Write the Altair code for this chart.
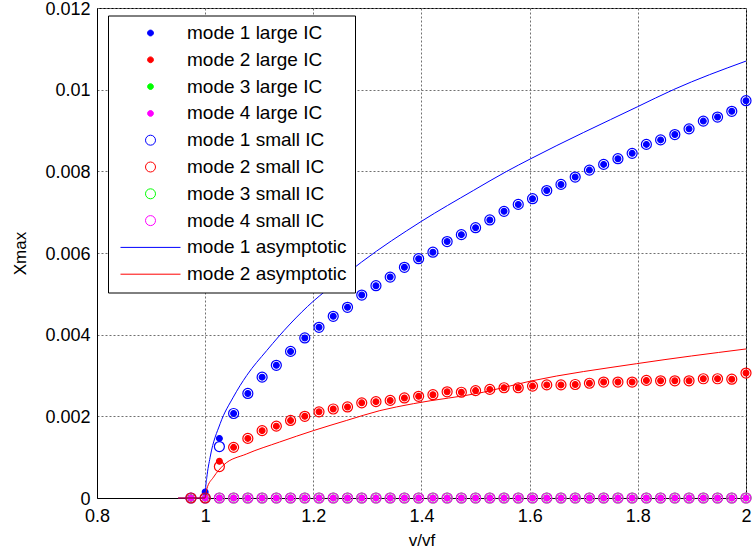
import altair as alt
import pandas as pd

# v/vf sample points (same grid for every mode)
v_ratio = [0.9737, 1.0, 1.0263, 1.0526, 1.0789, 1.1053, 1.1316, 1.1579, 1.1842, 1.2105,
           1.2368, 1.2632, 1.2895, 1.3158, 1.3421, 1.3684, 1.3947, 1.4211, 1.4474, 1.4737,
           1.5, 1.5263, 1.5526, 1.5789, 1.6053, 1.6316, 1.6579, 1.6842, 1.7105, 1.7368,
           1.7632, 1.7895, 1.8158, 1.8421, 1.8684, 1.8947, 1.9211, 1.9474, 1.9737, 2.0]

mode1_large = [0.0, 0.00015, 0.00146, 0.00207, 0.00256, 0.00296, 0.00325, 0.00359, 0.00392, 0.00418,
               0.00445, 0.00467, 0.00497, 0.00520, 0.00541, 0.00565, 0.00586, 0.00602, 0.00628, 0.00645,
               0.00662, 0.00681, 0.00702, 0.00719, 0.00733, 0.00753, 0.00768, 0.00786, 0.00803, 0.00817,
               0.00831, 0.00844, 0.00866, 0.00877, 0.00890, 0.00904, 0.00923, 0.00933, 0.00947, 0.00973]
mode1_small = [0.0, 0.0, 0.00126, 0.00207, 0.00256, 0.00296, 0.00325, 0.00359, 0.00392, 0.00418,
               0.00445, 0.00467, 0.00497, 0.00520, 0.00541, 0.00565, 0.00586, 0.00602, 0.00628, 0.00645,
               0.00662, 0.00681, 0.00702, 0.00719, 0.00733, 0.00753, 0.00768, 0.00786, 0.00803, 0.00817,
               0.00831, 0.00844, 0.00866, 0.00877, 0.00890, 0.00904, 0.00923, 0.00933, 0.00947, 0.00973]
mode2_large = [0.0, 0.0, 0.00090, 0.00124, 0.00146, 0.00165, 0.00176, 0.00190, 0.00200, 0.00211,
               0.00218, 0.00223, 0.00233, 0.00236, 0.00239, 0.00245, 0.00249, 0.00253, 0.00260, 0.00259,
               0.00263, 0.00266, 0.00270, 0.00270, 0.00274, 0.00277, 0.00277, 0.00278, 0.00281, 0.00284,
               0.00284, 0.00284, 0.00288, 0.00287, 0.00287, 0.00287, 0.00292, 0.00292, 0.00291, 0.00306]
mode2_small = [0.0, 0.0, 0.00077, 0.00124, 0.00146, 0.00165, 0.00176, 0.00190, 0.00200, 0.00211,
               0.00218, 0.00223, 0.00233, 0.00236, 0.00239, 0.00245, 0.00249, 0.00253, 0.00260, 0.00259,
               0.00263, 0.00266, 0.00270, 0.00270, 0.00274, 0.00277, 0.00277, 0.00278, 0.00281, 0.00284,
               0.00284, 0.00284, 0.00288, 0.00287, 0.00287, 0.00287, 0.00292, 0.00292, 0.00291, 0.00306]
# modes 3 and 4 stay at zero
mode3_large = [0.0] * 40
mode4_large = [0.0] * 40
mode3_small = [0.0] * 38   # from v/vf = 1.0263 on
mode4_small = [0.0] * 38

# asymptotic amplitude curves
asym1_x = [0.95, 1.0, 1.001, 1.003, 1.0092, 1.0277, 1.052, 1.0768, 1.1138, 1.1569, 1.2, 1.2216,
           1.2894, 1.4004, 1.4958, 1.5576, 1.6007, 1.7991, 1.8657, 2.0]
asym1_y = [0.0, 0.0, 0.00025, 0.00050, 0.0010, 0.00182, 0.00247, 0.0030, 0.00361, 0.00426, 0.00482, 0.00506,
           0.00578, 0.00678, 0.00753, 0.00800, 0.00830, 0.00958, 0.0100, 0.0107]
asym2_x = [0.95, 1.0, 1.003, 1.0154, 1.0336, 1.0768, 1.1375, 1.2, 1.2617, 1.323, 1.385, 1.5143, 1.6007,
           1.7979, 2.0]
asym2_y = [0.0, 0.0, 0.00022, 0.00051, 0.00080, 0.00108, 0.00137, 0.00165, 0.0019, 0.00214, 0.00231,
           0.00259, 0.00286, 0.00329, 0.00365]

series = ["mode 1 large IC", "mode 2 large IC", "mode 3 large IC", "mode 4 large IC",
          "mode 1 small IC", "mode 2 small IC", "mode 3 small IC", "mode 4 small IC",
          "mode 1 asymptotic", "mode 2 asymptotic"]
stroke_colors = ["#0000ff", "#ff0000", "#00ff00", "#ff00ff",
                 "#0000ff", "#ff0000", "#00ff00", "#ff00ff",
                 "#0000ff", "#ff0000"]
fill_colors = ["#0000ff", "#ff0000", "#00ff00", "#ff00ff",
               "transparent", "transparent", "transparent", "transparent",
               "transparent", "transparent"]

# marker glyphs (unit = 5 px at size 100); every glyph spans the same width
# so that the legend rows line up on one symbol column
SPAN = "M-6,0M6,0"
dot_glyph = SPAN + "M0.58,0A0.58,0.58,0,1,1,-0.58,0A0.58,0.58,0,1,1,0.58,0Z"
ring_glyph = SPAN + "M1,0A1,1,0,1,1,-1,0A1,1,0,1,1,1,0Z"
line_glyph = "M-6,0H6"
shapes = [dot_glyph] * 4 + [ring_glyph] * 4 + [line_glyph] * 2

rows = []
for name, ys in [("mode 1 large IC", mode1_large), ("mode 2 large IC", mode2_large),
                 ("mode 3 large IC", mode3_large), ("mode 4 large IC", mode4_large)]:
    rows += [{"x": x, "y": y, "series": name} for x, y in zip(v_ratio, ys)]
for name, ys in [("mode 1 small IC", mode1_small), ("mode 2 small IC", mode2_small)]:
    rows += [{"x": x, "y": y, "series": name} for x, y in zip(v_ratio, ys)]
for name, ys in [("mode 3 small IC", mode3_small), ("mode 4 small IC", mode4_small)]:
    rows += [{"x": x, "y": y, "series": name} for x, y in zip(v_ratio[2:], ys)]
points = pd.DataFrame(rows)
points["order"] = range(len(points))

lines = pd.DataFrame(
    [{"x": x, "y": y, "series": "mode 1 asymptotic"} for x, y in zip(asym1_x, asym1_y)]
    + [{"x": x, "y": y, "series": "mode 2 asymptotic"} for x, y in zip(asym2_x, asym2_y)]
)

FONT = "Liberation Sans"

x_enc = alt.X("x:Q", title="v/vf",
              scale=alt.Scale(domain=[0.8, 2.0], nice=False, zero=False),
              axis=alt.Axis(values=[0.8, 1.0, 1.2, 1.4, 1.6, 1.8, 2.0], format="~g",
                            labelFlush=False, labelPadding=9,
                            titleY=47, titleBaseline="alphabetic"))
y_enc = alt.Y("y:Q", title="Xmax",
              scale=alt.Scale(domain=[0, 0.012], nice=False),
              axis=alt.Axis(values=[0, 0.002, 0.004, 0.006, 0.008, 0.01, 0.012], format="~g",
                            labelOffset=1, labelPadding=7,
                            titleX=-71.5, titleY=245, titleAngle=-90,
                            titleBaseline="alphabetic", titleAlign="center"))

legend = alt.Legend(title=None, orient="none", legendX=11, legendY=7.5,
                    padding=8, rowPadding=6.8, labelFontSize=19, labelFont=FONT,
                    labelColor="black", labelLimit=400, symbolSize=100,
                    symbolStrokeWidth=1, symbolOffset=25, labelOffset=27,
                    strokeColor="black", fillColor="white")

stroke_scale = alt.Scale(domain=series, range=stroke_colors)

pts = alt.Chart(points).mark_point(opacity=1, strokeWidth=1.2, size=100).encode(
    x=x_enc, y=y_enc,
    stroke=alt.Stroke("series:N", scale=stroke_scale, legend=legend),
    fill=alt.Fill("series:N", scale=alt.Scale(domain=series, range=fill_colors), legend=legend),
    shape=alt.Shape("series:N", scale=alt.Scale(domain=series, range=shapes), legend=legend),
    order="order:Q",
)

asym = alt.Chart(lines).mark_line(strokeWidth=1, opacity=1, interpolate="monotone").encode(
    x=x_enc, y=y_enc,
    stroke=alt.Stroke("series:N", scale=stroke_scale, legend=legend),
)

chart = alt.layer(pts, asym).properties(
    width=649, height=490,
    autosize=alt.AutoSizeParams(type="none"),
    padding={"left": 97, "top": 8, "right": 6, "bottom": 54},
    background="white",
).configure_view(
    stroke="black", strokeWidth=1
).configure_axis(
    labelFont=FONT, labelFontSize=18, labelColor="black",
    titleFont=FONT, titleFontSize=17, titleFontWeight="normal", titleColor="black",
    ticks=False, domainColor="black", domainWidth=1,
    gridColor="#707070", gridDash=[2, 2], gridWidth=1, gridOpacity=1,
)

chart.save("out.html", embed_options={"renderer": "svg", "actions": False})
